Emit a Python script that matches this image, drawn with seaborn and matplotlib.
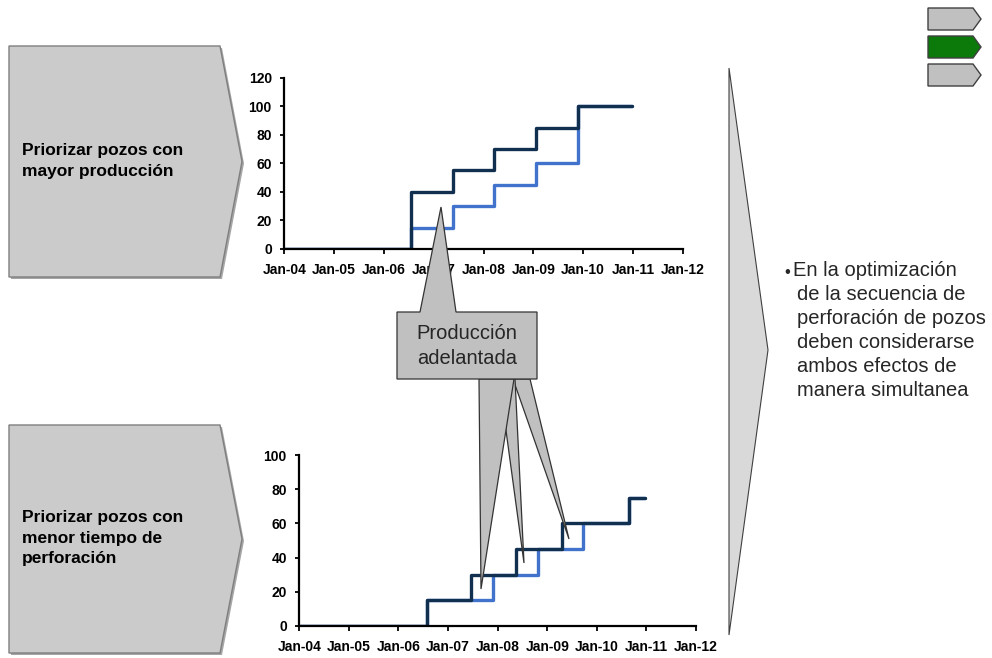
import matplotlib
matplotlib.use("Agg")
import matplotlib.pyplot as plt
import seaborn as sns
import pandas as pd
from matplotlib.patches import Polygon

sns.set_theme(style="white")
plt.rcParams['font.family'] = ['Liberation Sans', 'DejaVu Sans']

# Ticks of both charts (one per January)
tick_years = [2004, 2005, 2006, 2007, 2008, 2009, 2010, 2011, 2012]
tick_labels = ['Jan-04', 'Jan-05', 'Jan-06', 'Jan-07', 'Jan-08',
               'Jan-09', 'Jan-10', 'Jan-11', 'Jan-12']

# Top chart: wells with greater production first (step dates as decimal years)
top_x = [2004.0, 2006.54, 2007.38, 2008.22, 2009.05, 2009.90, 2010.98]
top_dark = [0, 40, 55, 70, 85, 100, 100]
top_blue = [0, 15, 30, 45, 60, 100, 100]

# Bottom chart: wells with shorter drilling time first
bot_dark_x = [2004.0, 2006.57, 2007.46, 2008.38, 2009.30, 2010.65, 2010.97]
bot_dark = [0, 15, 30, 45, 60, 75, 75]
bot_blue_x = [2004.0, 2006.57, 2007.90, 2008.81, 2009.73, 2010.65, 2010.97]
bot_blue = [0, 15, 30, 45, 60, 75, 75]

DARK = '#11304f'
BLUE = '#4172cc'
tick_font = ['Liberation Sans Narrow', 'Liberation Sans', 'DejaVu Sans']

fig = plt.figure(figsize=(9.92, 6.58), dpi=100)

# background layer in pixel coordinates for the shapes
bg = fig.add_axes([0, 0, 1, 1])
bg.set_xlim(0, 992)
bg.set_ylim(658, 0)
bg.axis('off')


def pentagon(ax, x0, x1, xp, y0, y1, face, edge='#7f7f7f', shadow=True):
    ym = (y0 + y1) / 2
    pts = [(x0, y0), (x1, y0), (xp, ym), (x1, y1), (x0, y1)]
    if shadow:
        sh = [(x + 2, y + 2) for x, y in pts]
        ax.add_patch(Polygon(sh, closed=True, facecolor='#a6a6a6', edgecolor='none'))
    ax.add_patch(Polygon(pts, closed=True, facecolor=face, edgecolor=edge, lw=1))


# left boxes
pentagon(bg, 9, 220, 242, 46, 277, '#cbcbcb')
bg.text(22, 161, 'Priorizar pozos con\nmayor producción', fontsize=12.5,
        fontweight='bold', color='black', va='center', ha='left', linespacing=1.45)
pentagon(bg, 9, 220, 242, 425, 653, '#cbcbcb')
bg.text(22, 538, 'Priorizar pozos con\nmenor tiempo de\nperforación', fontsize=12.5,
        fontweight='bold', color='black', va='center', ha='left', linespacing=1.45)

# big right chevron
bg.add_patch(Polygon([(729, 68), (768, 350), (729, 635)], closed=True,
                     facecolor='#d9d9d9', edgecolor='#404040', lw=0.8))

# small navigation arrows top right
pentagon(bg, 928, 973, 981, 8, 30, '#c0c0c0', edge='#404040', shadow=False)
pentagon(bg, 928, 973, 981, 36, 58, '#0b7a0b', edge='#404040', shadow=False)
pentagon(bg, 928, 973, 981, 64, 86, '#c0c0c0', edge='#404040', shadow=False)

# bullet text
lines = ['En la optimización', 'de la secuencia de', 'perforación de pozos',
         'deben considerarse', 'ambos efectos de', 'manera simultanea']
bg.text(784, 272, '•', fontsize=12, color='#262626', va='center', ha='left')
for i, line in enumerate(lines):
    bg.text(793 if i == 0 else 797, 270 + 24 * i, line, fontsize=14.5,
            color='#262626', va='center', ha='left')


def step_chart(rect, xs_dark, ys_dark, xs_blue, ys_blue, ymax):
    ax = fig.add_axes(rect)
    ax.patch.set_alpha(0)
    sns.lineplot(x=xs_blue, y=ys_blue, drawstyle='steps-post', color=BLUE,
                 lw=2.4, ax=ax, estimator=None)
    sns.lineplot(x=xs_dark, y=ys_dark, drawstyle='steps-post', color=DARK,
                 lw=2.4, ax=ax, estimator=None)
    ax.set_xlim(2004, 2012)
    ax.set_ylim(0, ymax)
    ax.set_xticks(tick_years)
    ax.set_xticklabels(tick_labels)
    ax.set_yticks(range(0, ymax + 1, 20))
    sns.despine(ax=ax)
    for s in ['left', 'bottom']:
        ax.spines[s].set_color('black')
        ax.spines[s].set_linewidth(1.6)
    ax.tick_params(axis='x', direction='out', length=3.6, width=1.3,
                   color='black', pad=6.5, bottom=True)
    ax.tick_params(axis='y', direction='out', length=2.7, width=1.3,
                   color='black', pad=6.3, left=True)
    for lab in ax.get_xticklabels() + ax.get_yticklabels():
        lab.set_fontfamily(tick_font)
        lab.set_fontweight('bold')
        lab.set_fontsize(10)
        lab.set_color('black')
    ax.set_xlabel('')
    ax.set_ylabel('')
    ax.grid(False)
    return ax


step_chart([284.3 / 992, 1 - 249 / 658, 398.4 / 992, 171.3 / 658],
           top_x, top_dark, top_x, top_blue, 120)
step_chart([299.3 / 992, 1 - 625.7 / 658, 396.7 / 992, 170.4 / 658],
           bot_dark_x, bot_dark, bot_blue_x, bot_blue, 100)

# callout overlay
ov = fig.add_axes([0, 0, 1, 1], zorder=10)
ov.set_xlim(0, 992)
ov.set_ylim(658, 0)
ov.axis('off')
ov.patch.set_alpha(0)
call_face = '#c0c0c0'
call_edge = '#333333'
ov.add_patch(Polygon([(513, 379), (530, 379), (569, 539)], closed=True,
                     facecolor=call_face, edgecolor=call_edge, lw=0.9))
ov.add_patch(Polygon([(499, 379), (515, 379), (524, 563)], closed=True,
                     facecolor=call_face, edgecolor=call_edge, lw=0.9))
ov.add_patch(Polygon([(479, 379), (514, 379), (481, 589)], closed=True,
                     facecolor=call_face, edgecolor=call_edge, lw=0.9))
ov.add_patch(Polygon([(397, 312), (420, 312), (441, 207), (456, 312), (537, 312),
                      (537, 379), (397, 379)], closed=True,
                     facecolor=call_face, edgecolor=call_edge, lw=0.9))
ov.text(467, 346, 'Producción\nadelantada', fontsize=14.5, color='#262626',
        ha='center', va='center', linespacing=1.45)

fig.savefig('out.png', dpi=100)
